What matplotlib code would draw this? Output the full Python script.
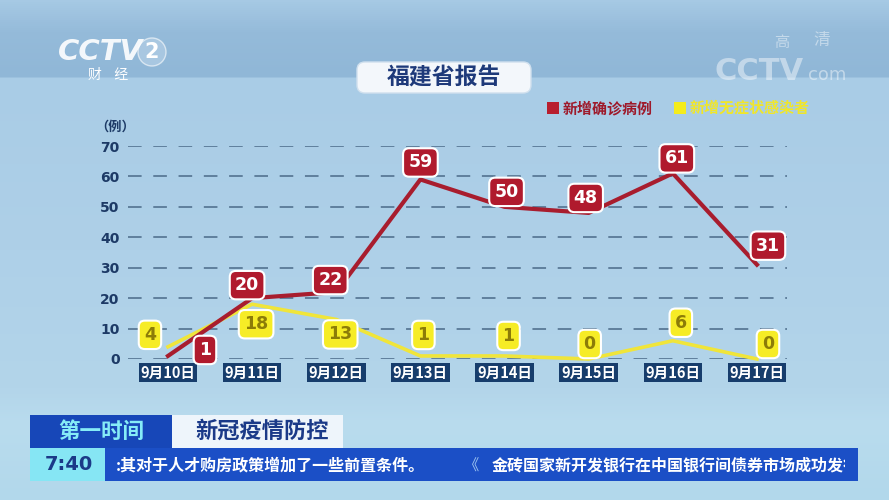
import numpy as np
import matplotlib.pyplot as plt
from matplotlib.patches import FancyBboxPatch, Rectangle, Circle
from matplotlib.colors import LinearSegmentedColormap
from matplotlib.transforms import Bbox, TransformedBbox

plt.rcParams['font.family'] = ['Noto Sans CJK SC', 'DejaVu Sans']

# data
dates = ['9月10日', '9月11日', '9月12日', '9月13日', '9月14日', '9月15日', '9月16日', '9月17日']
confirmed = [1, 20, 22, 59, 50, 48, 61, 31]
asymptomatic = [4, 18, 13, 1, 1, 0, 6, 0]
y_ticks = [0, 10, 20, 30, 40, 50, 60, 70]

# label placement (pixel offsets from each point)
red_off = [(37, 6), (-5, 13), (-6, 12), (0, 17), (2, 15), (-3, 15), (4, 15), (11, 19)]
yel_off = [(-18, 12), (4, -20), (4, -15), (3, 21), (4, 20), (1, 15), (8, 18), (11, 15)]

RED = '#a81d2e'
YEL = '#f0e53a'
NAVY = '#1d3a66'

fig = plt.figure(figsize=(8.89, 5), dpi=100)

# ---- background and decorations, in pixel coords
bg = fig.add_axes([0, 0, 1, 1])
bg.set_xlim(0, 889)
bg.set_ylim(500, 0)
bg.axis('off')
cmap = LinearSegmentedColormap.from_list('bg', [
    (0.0, '#a6c9e4'), (0.06, '#95bbda'), (0.15, '#90b7d7'), (0.156, '#a9cce6'),
    (0.5, '#aed0e8'), (0.78, '#b3d5ea'), (0.85, '#b9dcee'), (1.0, '#b2d8eb')])
grad = np.linspace(0, 1, 500).reshape(-1, 1)
bg.imshow(grad, cmap=cmap, extent=[0, 889, 500, 0], aspect='auto', zorder=0)

# CCTV-2 logo
bg.text(58, 52, 'CCTV', fontsize=21, color='white', fontweight='bold',
        family='DejaVu Sans', va='center', ha='left', alpha=0.9, fontstyle='italic')
bg.add_patch(Circle((152, 52), 14, fc='#b8d2e8', ec='white', lw=1, alpha=0.6))
bg.text(152, 52, '2', fontsize=15, color='white', fontweight='bold',
        family='DejaVu Sans', ha='center', va='center')
bg.text(108, 75, '财    经', fontsize=10, color='white', ha='center', va='center')

# watermark
bg.text(715, 71, 'CCTV', fontsize=22, color='white', alpha=0.45, fontweight='bold',
        family='DejaVu Sans', va='center', ha='left')
bg.text(808, 75, 'com', fontsize=13, color='white', alpha=0.45,
        family='DejaVu Sans', va='center', ha='left')
bg.text(782, 43, '高', fontsize=11, color='white', alpha=0.45, ha='center', va='center')
bg.text(822, 40, '清', fontsize=12, color='white', alpha=0.45, ha='center', va='center')

# title box
bg.add_patch(FancyBboxPatch((357, 62), 174, 31, boxstyle='round,pad=0,rounding_size=8',
                            fc='#f3f7fb', ec='#d0e0ee', lw=1, zorder=2))
bg.text(444, 78, '福建省报告', fontsize=16.5, fontweight='bold', color='#1e3a7a',
        ha='center', va='center', zorder=3)

# legend
bg.add_patch(Rectangle((547, 102), 12, 12, fc='#b81e2e', ec='none'))
bg.text(563, 108, '新增确诊病例', fontsize=10.8, fontweight='bold', color='#9e1a2b',
        ha='left', va='center')
bg.add_patch(Rectangle((674, 102), 12, 12, fc='#f4ec1c', ec='none'))
bg.text(690, 108, '新增无症状感染者', fontsize=10.8, fontweight='bold', color='#f0e62a',
        ha='left', va='center')

bg.text(115, 127, '（例）', fontsize=9.5, fontweight='bold', color=NAVY, ha='center', va='center')

# bottom banner
bg.add_patch(Rectangle((30, 415), 142, 33, fc='#1747b8', ec='none'))
bg.text(101, 431, '第一时间', fontsize=15.5, fontweight='bold', color='#86ecf7',
        ha='center', va='center')
bg.add_patch(Rectangle((172, 415), 171, 33, fc='#eef5fb', ec='none'))
bg.text(262, 431, '新冠疫情防控', fontsize=16, fontweight='bold', color='#1b3a88',
        ha='center', va='center')
bg.add_patch(Rectangle((30, 448), 828, 33, fc='#1b4fc6', ec='none'))
bg.add_patch(Rectangle((30, 448), 75, 33, fc='#86e6f4', ec='none'))
bg.text(69, 465, '7:40', fontsize=14, fontweight='bold', color='#1b3a88',
        ha='center', va='center', family='DejaVu Sans')
bg.text(116, 465, ':其对于人才购房政策增加了一些前置条件。', fontsize=11.5,
        fontweight='bold', color='white', ha='left', va='center')
bg.text(472, 466, '《', fontsize=11, color='#9ec4f0', ha='center', va='center')
t2 = bg.text(492, 465, '金砖国家新开发银行在中国银行间债券市场成功发行', fontsize=11.5,
             fontweight='bold', color='white', ha='left', va='center')
t2.set_clip_on(True)
t2.set_clip_box(TransformedBbox(Bbox([[30, 448], [845, 481]]), bg.transData))

# ---- chart axes
ax = fig.add_axes([128 / 889, 1 - 359 / 500, (787 - 128) / 889, (359 - 146) / 500])
ax.patch.set_alpha(0)
x = np.arange(len(dates))
ax.set_xlim(-0.475, 7.357)
ax.set_ylim(0, 70)
for s in ax.spines.values():
    s.set_visible(False)

ax.set_yticks(y_ticks)
ax.set_yticklabels([str(v) for v in y_ticks], fontsize=10, fontweight='bold', color=NAVY,
                   family='DejaVu Sans')
ax.tick_params(axis='y', length=0, pad=6)
ax.yaxis.grid(True, color='#5f7f9c', lw=1.4, linestyle=(0, (7, 6)))
ax.set_axisbelow(True)

ax.set_xticks(x)
ax.set_xticklabels(dates, fontsize=10.5, fontweight='bold', color='white')
ax.tick_params(axis='x', length=0, pad=4)
for lbl in ax.get_xticklabels():
    lbl.set_bbox(dict(boxstyle='square,pad=0.12', fc='#173d6c', ec='none'))

ax.plot(x, asymptomatic, color=YEL, lw=2.6, clip_on=False, zorder=3)
ax.plot(x, confirmed, color=RED, lw=3, clip_on=False, zorder=4)

for i in range(len(dates)):
    ax.annotate(str(asymptomatic[i]), (x[i], asymptomatic[i]), xytext=yel_off[i],
                textcoords='offset pixels', ha='center', va='center', fontsize=12.5,
                fontweight='bold', color='#8c7c08', family='DejaVu Sans', zorder=5,
                bbox=dict(boxstyle='round,pad=0.3,rounding_size=0.35', fc='#f6ec26',
                          ec='white', lw=1.5), annotation_clip=False)
    ax.annotate(str(confirmed[i]), (x[i], confirmed[i]), xytext=red_off[i],
                textcoords='offset pixels', ha='center', va='center', fontsize=12.5,
                fontweight='bold', color='white', family='DejaVu Sans', zorder=6,
                bbox=dict(boxstyle='round,pad=0.3,rounding_size=0.35', fc='#b01a2d',
                          ec='white', lw=1.5), annotation_clip=False)

fig.savefig('out.png', dpi=100)
